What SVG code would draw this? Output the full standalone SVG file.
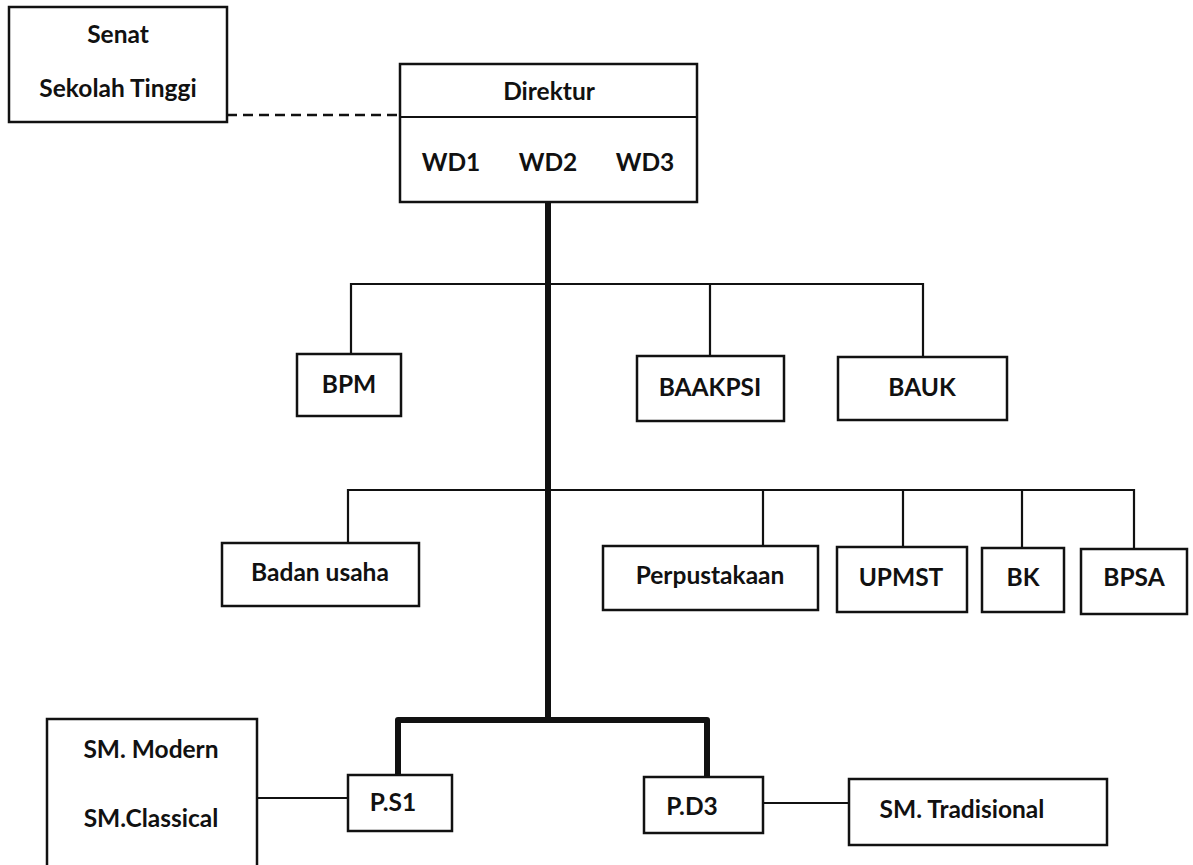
<svg xmlns="http://www.w3.org/2000/svg" width="1193" height="865" viewBox="0 0 1193 865">
<style>
.box{fill:#fff;stroke:#111;stroke-width:2.5}
.ln{fill:none;stroke:#111;stroke-width:2.2}
.thick{fill:none;stroke:#111;stroke-width:6;stroke-linejoin:round}
.dash{fill:none;stroke:#111;stroke-width:2.5;stroke-dasharray:10 6}
text{font-family:Lato,"Open Sans","Liberation Sans",sans-serif;font-weight:bold;font-size:24.5px;fill:#111;text-anchor:middle}
</style>
<rect width="1193" height="865" fill="#fff"/>
<g id="connectors">
<line class="dash" x1="227" y1="115" x2="400" y2="115"/>
<path class="thick" d="M548 202 V720 M398 775 V720 H707 V777"/>
<path class="ln" d="M351 354 V284 H923 V357 M710 284 V356"/>
<path class="ln" d="M348 543 V490 H1134 V549 M763 490 V546 M903 490 V547 M1022 490 V548"/>
<line class="ln" x1="257" y1="798" x2="348" y2="798"/>
<line class="ln" x1="763" y1="803" x2="849" y2="803"/>
</g>
<g id="senat">
<rect class="box" x="9" y="7" width="218" height="115"/>
<text x="118" y="43">Senat</text>
<text x="118" y="97">Sekolah Tinggi</text>
</g>
<g id="direktur">
<rect class="box" x="400" y="64" width="297" height="138"/>
<line class="ln" x1="400" y1="117" x2="697" y2="117"/>
<text x="549" y="100">Direktur</text>
<text x="451" y="171">WD1</text>
<text x="548" y="171">WD2</text>
<text x="645" y="171">WD3</text>
</g>
<g id="bpm">
<rect class="box" x="297" y="354" width="104" height="62"/>
<text x="349" y="393">BPM</text>
</g>
<g id="baakpsi">
<rect class="box" x="637" y="356" width="147" height="65"/>
<text x="710" y="396">BAAKPSI</text>
</g>
<g id="bauk">
<rect class="box" x="838" y="357" width="169" height="63"/>
<text x="922" y="396">BAUK</text>
</g>
<g id="badan-usaha">
<rect class="box" x="222" y="543" width="197" height="63"/>
<text x="320" y="581">Badan usaha</text>
</g>
<g id="perpustakaan">
<rect class="box" x="603" y="546" width="215" height="64"/>
<text x="710" y="584">Perpustakaan</text>
</g>
<g id="upmst">
<rect class="box" x="837" y="547" width="130" height="65"/>
<text x="901" y="586">UPMST</text>
</g>
<g id="bk">
<rect class="box" x="982" y="548" width="82" height="64"/>
<text x="1023" y="586">BK</text>
</g>
<g id="bpsa">
<rect class="box" x="1081" y="549" width="106" height="65"/>
<text x="1134" y="586">BPSA</text>
</g>
<g id="sm-modern-classical">
<rect class="box" x="47" y="719" width="210" height="150"/>
<text x="151" y="758">SM. Modern</text>
<text x="151" y="827">SM.Classical</text>
</g>
<g id="ps1">
<rect class="box" x="348" y="775" width="104" height="56"/>
<text x="393" y="811">P.S1</text>
</g>
<g id="pd3">
<rect class="box" x="644" y="777" width="119" height="56"/>
<text x="692" y="815">P.D3</text>
</g>
<g id="sm-tradisional">
<rect class="box" x="849" y="779" width="258" height="66"/>
<text x="962" y="818">SM. Tradisional</text>
</g>
</svg>
